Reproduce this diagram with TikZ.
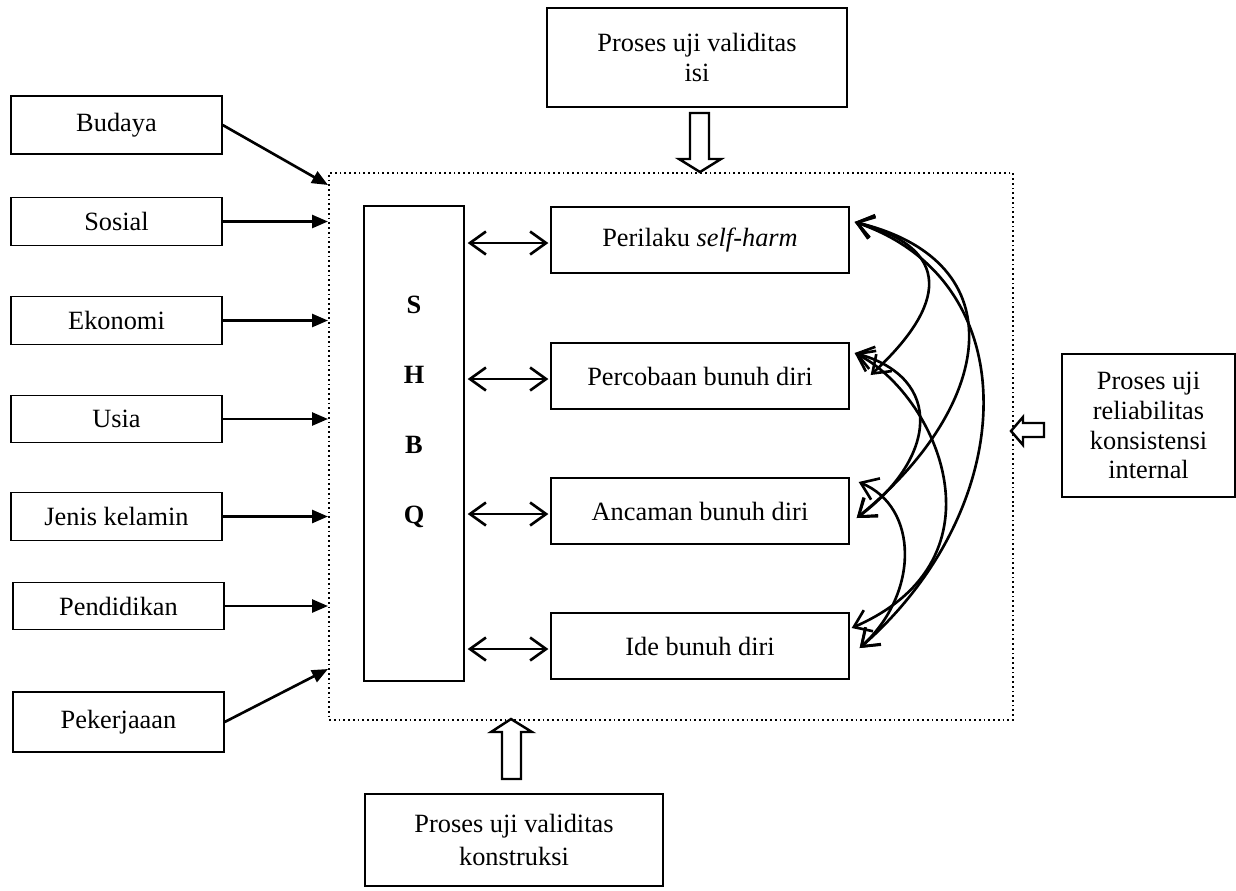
\documentclass[tikz,border=0pt]{standalone}
\usepackage{fontspec}
\setmainfont{Liberation Serif}
\usetikzlibrary{arrows.meta,calc}

\begin{document}
\begin{tikzpicture}
	[x=0.02cm, y=-0.02cm,
	 every node/.style={font=\fontsize{15}{17}\selectfont},
	 box/.style={rectangle, draw, line width=0.8pt, inner sep=0pt, align=center},
	 factor/.style={box, minimum width=4.22cm, minimum height=0.95cm},
	 aspect/.style={box, minimum width=5.96cm, minimum height=1.32cm},
	 feed/.style={line width=1.5pt, -{Triangle[length=0.32cm, width=0.26cm]}},
	 link/.style={line width=1.5pt, {Straight Barb[length=0.32cm, width=0.46cm]}-{Straight Barb[length=0.32cm, width=0.46cm]}},
	 hollow/.style={draw, line width=1.4pt, fill=white, line join=miter}]
	\useasboundingbox (0,0) rectangle (1236,890);

	% factors on the left
	\node[factor, minimum height=1.16cm] (budaya) at (116.5,125) {Budaya};
	\node[factor] (sosial) at (116.5,221.5) {Sosial};
	\node[factor] (ekonomi) at (116.5,320.5) {Ekonomi};
	\node[factor] (usia) at (116.5,419) {Usia};
	\node[factor] (jenis) at (116.5,516.5) {Jenis kelamin};
	\node[factor] (pendidikan) at (118.5,606) {Pendidikan};
	\node[factor, minimum height=1.2cm] (pekerjaan) at (118.5,722) {Pekerjaaan};

	% dotted frame
	\node[draw, dash pattern=on 1pt off 1.7pt, line width=1.2pt, minimum width=13.68cm,
		minimum height=10.94cm, inner sep=0pt, anchor=north west] (frame) at (328,172) {};

	\node[box, minimum width=2cm, minimum height=9.5cm] (shbq) at (414,443.5) {};
	\node[font=\fontsize{15}{39.8}\selectfont\bfseries, align=center] (letters) at (414,412) {S\\H\\B\\Q};

	\node[aspect] (perilaku) at (700,240) {Perilaku \textit{self-harm}};
	\node[aspect] (percobaan) at (700,376) {Percobaan bunuh diri};
	\node[aspect] (ancaman) at (700,511) {Ancaman bunuh diri};
	\node[aspect] (ide) at (700,646) {Ide bunuh diri};

	% test processes
	\node[box, minimum width=6cm, minimum height=1.98cm] (isi) at (697,57.5) {Proses uji validitas\\isi};
	\node[box, minimum width=5.96cm, minimum height=1.84cm, font=\fontsize{15}{18.7}\selectfont]
		(konstruksi) at (514,840) {Proses uji validitas\\konstruksi};
	\node[box, minimum width=3.46cm, minimum height=2.86cm] (reliabilitas) at (1148.5,425.5)
		{Proses uji\\reliabilitas\\konsistensi\\internal};

	% arrows into the frame
	\draw[feed] (budaya.east) -- ($(frame.north west)+(0,13)$);
	\draw[feed] (sosial.east) -- (sosial.east -| frame.west);
	\draw[feed] (ekonomi.east) -- (ekonomi.east -| frame.west);
	\draw[feed] (usia.east) -- (usia.east -| frame.west);
	\draw[feed] (jenis.east) -- (jenis.east -| frame.west);
	\draw[feed] (pendidikan.east) -- (pendidikan.east -| frame.west);
	\draw[feed] (pekerjaan.east) -- ($(frame.south west)+(0,-52)$);

	\foreach \n in {perilaku, percobaan, ancaman, ide} {
		\coordinate (\n-in) at ($(\n.west)+(-2,3)$);
		\draw[link] ($(shbq.east |- \n-in)+(3,0)$) -- (\n-in);
	}

	% curved links between the aspects
	\coordinate (p1) at ($(perilaku.east)+(5,-18)$);
	\coordinate (c2a) at ($(percobaan.east)+(5,-23)$);
	\coordinate (c2b) at ($(percobaan.east)+(21,-1)$);
	\coordinate (a3a) at ($(ancaman.east)+(9,-29)$);
	\coordinate (a3b) at ($(ancaman.east)+(7,7)$);
	\coordinate (i4a) at ($(ide.east)+(2,-18)$);
	\coordinate (i4b) at ($(ide.east)+(10,2)$);
	\draw[link] (p1) .. controls +(110,30) and +(65,-60) .. (c2b);
	\draw[link] (p1) .. controls +(165,40) and +(135,-110) .. (a3b);
	\draw[link] (p1) .. controls +(175,60) and +(160,-140) .. (i4b);
	\draw[link] (c2a) .. controls +(90,25) and +(80,-60) .. (a3b);
	\draw[link] (c2a) .. controls +(80,40) and +(160,-70) .. (i4a);
	\draw[link] (a3a) .. controls +(60,25) and +(60,-55) .. (i4b);

	% hollow block arrows
	\draw[hollow] (690,113) -- (709,113) -- (709,159) -- (721,159) -- (700,172) -- (679,159) -- (690,159) -- cycle;
	\draw[hollow] (502,779) -- (502,732) -- (491,732) -- (511,719) -- (532,732) -- (521,732) -- (521,779) -- cycle;
	\draw[hollow] (1044,423) -- (1023,423) -- (1023,417) -- (1011,431) -- (1023,445) -- (1023,437) -- (1044,437) -- cycle;
\end{tikzpicture}
\end{document}
